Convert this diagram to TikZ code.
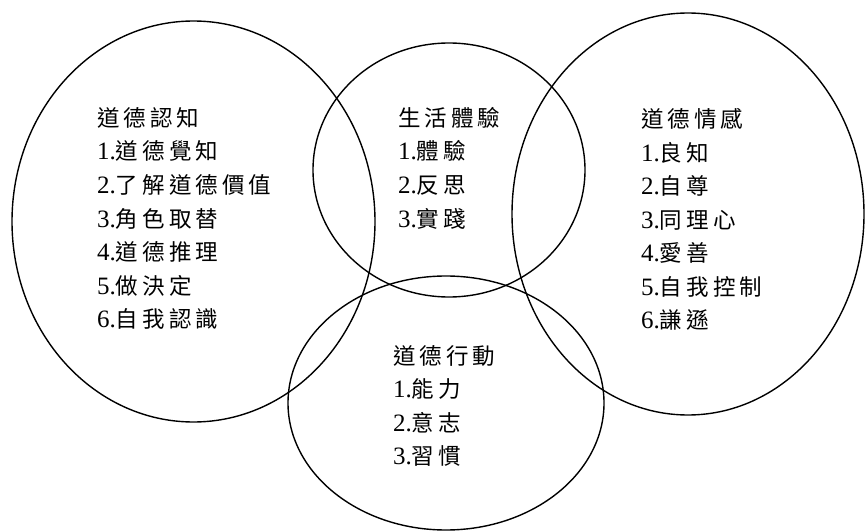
\documentclass[tikz,border=0pt]{standalone}
\usepackage{fontspec}
\setmainfont{Liberation Serif}
\newfontfamily\cjk[Scale=0.9,LetterSpace=18]{Noto Sans CJK TC}
\begin{document}
\begin{tikzpicture}[x=1pt,y=-1pt,
  ring/.style={draw=black,line width=1.4pt},
  lbl/.style={anchor=base west,inner sep=0pt,font=\fontsize{25}{30}\selectfont}]
\useasboundingbox (0,0) rectangle (865,532);
\draw[ring] (193.5,221.5) ellipse [x radius=181.5pt, y radius=200.5pt];
\draw[ring] (449,170) ellipse [x radius=136pt, y radius=127pt];
\draw[ring] (688,214) ellipse [x radius=176pt, y radius=201pt];
\draw[ring] (446,403) ellipse [x radius=158pt, y radius=127pt];
\foreach \t [count=\i from 0] in {{\cjk 道德認知},1.{\cjk 道德覺知},2.{\cjk 了解道德價值},3.{\cjk 角色取替},4.{\cjk 道德推理},5.{\cjk 做決定},6.{\cjk 自我認識}}
  \node[lbl] (cog\i) at (97,{126.5+33.5*\i}) {\t};
\foreach \t [count=\i from 0] in {{\cjk 生活體驗},1.{\cjk 體驗},2.{\cjk 反思},3.{\cjk 實踐}}
  \node[lbl] (life\i) at (398,{126.5+33.5*\i}) {\t};
\foreach \t [count=\i from 0] in {{\cjk 道德情感},1.{\cjk 良知},2.{\cjk 自尊},3.{\cjk 同理心},4.{\cjk 愛善},5.{\cjk 自我控制},6.{\cjk 謙遜}}
  \node[lbl] (aff\i) at (641,{127.5+33.5*\i}) {\t};
\foreach \t [count=\i from 0] in {{\cjk 道德行動},1.{\cjk 能力},2.{\cjk 意志},3.{\cjk 習慣}}
  \node[lbl] (act\i) at (393,{364+33.5*\i}) {\t};
\end{tikzpicture}
\end{document}
